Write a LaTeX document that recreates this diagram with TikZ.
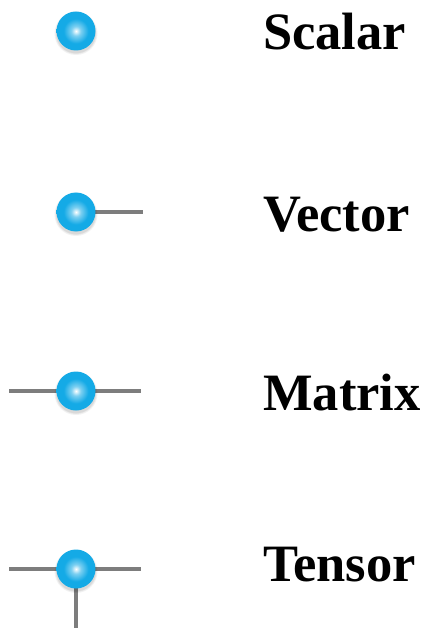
\documentclass[tikz,border=0pt]{standalone}
\usepackage{fontspec}
\setmainfont{Liberation Serif}
\definecolor{ballcyan}{RGB}{20,170,230}
\definecolor{stemgray}{RGB}{125,125,125}
\pgfdeclareradialshading{ballshade}{\pgfpoint{0bp}{0bp}}{%
  color(0bp)=(white);
  color(6bp)=(ballcyan!55!white);
  color(16bp)=(ballcyan);
  color(44bp)=(ballcyan);
  color(50bp)=(ballcyan!92!black)}
\tikzset{
  ball/.style={circle, minimum size=39pt, inner sep=0pt, shading=ballshade},
  stem/.style={draw=stemgray, line width=4pt},
  label/.style={anchor=base west, inner sep=0pt,
    font=\fontsize{52.5pt}{60pt}\selectfont\bfseries},
  ballshadow/.style={fill=black, opacity=0.05}
}
\begin{document}
\begin{tikzpicture}[x=1pt, y=-1pt]
  \useasboundingbox (0,0) rectangle (428,628);
  \fill[white] (0,0) rectangle (428,628);

  % end points of the legs
  \coordinate (vR) at (143,212);
  \coordinate (mL) at (9,391);
  \coordinate (mR) at (141,391);
  \coordinate (tL) at (9,569);
  \coordinate (tR) at (141,569);
  \coordinate (tD) at (76,628);

  % legs (drawn under the balls)
  \draw[stem] (76,212) -- (vR);
  \draw[stem] (mL) -- (mR);
  \draw[stem] (tL) -- (tR);
  \draw[stem] (76,569) -- (tD);

  % soft shadows under the balls
  \foreach \y in {31,212,391,569}{
    \foreach \r in {21.5,20.5,19.8}{
      \fill[ballshadow] (76,\y+2.5) circle (\r pt);
    }
  }

  % balls
  \node[ball] (s) at (76,31) {};
  \node[ball] (v) at (76,212) {};
  \node[ball] (m) at (76,391) {};
  \node[ball] (t) at (76,569) {};

  % labels
  \node[label] (ls) at (263,50) {Scalar};
  \node[label] (lv) at (263,231) {Vector};
  \node[label] (lm) at (263,410) {Matrix};
  \node[label] (lt) at (263,581) {Tensor};
\end{tikzpicture}
\end{document}
